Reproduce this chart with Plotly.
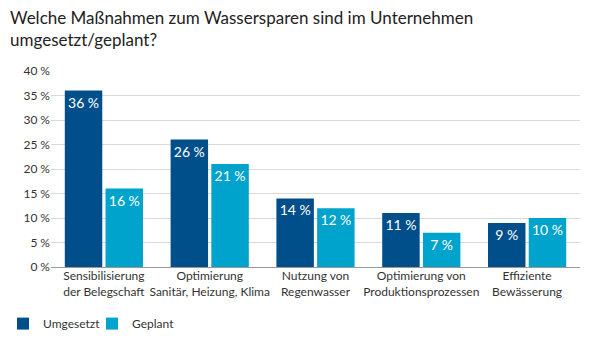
import plotly.graph_objects as go

categories = ["Sensibilisierung<br>der Belegschaft", "Optimierung<br>Sanitär, Heizung, Klima",
              "Nutzung von<br>Regenwasser", "Optimierung von<br>Produktionsprozessen",
              "Effiziente<br>Bewässerung"]
umgesetzt = [36, 26, 14, 11, 9]
geplant = [16, 21, 12, 7, 10]
y_ticks = [0, 5, 10, 15, 20, 25, 30, 35, 40]
y_tick_labels = [f"{v}\u202f%" for v in y_ticks]
title_text = "Welche Maßnahmen zum Wassersparen sind im Unternehmen<br>umgesetzt/geplant?"

dark = "#004f8b"
light = "#00a3cc"
font_fam = "Lato"

fig = go.Figure()
fig.add_trace(go.Bar(
    name="Umgesetzt", x=categories, y=umgesetzt, marker=dict(color=dark, line=dict(width=0)),
    text=[f"{v}\u202f%" for v in umgesetzt], textposition="inside", insidetextanchor="end",
    textfont=dict(color="white", size=14, family=font_fam), textangle=0,
))
fig.add_trace(go.Bar(
    name="Geplant", x=categories, y=geplant, marker=dict(color=light, line=dict(width=0)),
    text=[f"{v}\u202f%" for v in geplant], textposition="inside", insidetextanchor="end",
    textfont=dict(color="white", size=14, family=font_fam), textangle=0,
))

fig.add_annotation(text=title_text, xref="paper", yref="paper", x=-43/529, y=1 + 66/196,
                   xanchor="left", yanchor="top", align="left", showarrow=False,
                   font=dict(family="Lato", size=17, color="#222222"))

fig.update_layout(
    width=605, height=345,
    margin=dict(l=51, r=25, t=71, b=78, autoexpand=False),
    paper_bgcolor="white", plot_bgcolor="white",
    barmode="group", bargap=0.23, bargroupgap=0.08,
    font=dict(family=font_fam, color="#333333", size=12),
    showlegend=True,
    legend=dict(orientation="h", x=0.005, xref="container", xanchor="left",
                y=0.02, yref="container", yanchor="bottom",
                font=dict(size=12, color="#333333"), traceorder="normal",
                itemwidth=30, entrywidth=44, bgcolor="rgba(0,0,0,0)"),
    uniformtext=dict(minsize=14, mode="show"),
)
fig.update_yaxes(range=[0, 40], tickvals=y_ticks, ticktext=y_tick_labels, automargin=False,
                 showgrid=True, gridcolor="#d9d9d9", gridwidth=1,
                 zeroline=True, zerolinecolor="#999999", zerolinewidth=1,
                 ticks="", ticklen=0, tickfont=dict(size=12, color="#333333"))
fig.update_xaxes(showline=False, ticks="", automargin=False, tickfont=dict(size=12, color="#333333"))

fig.write_html("out.html")
